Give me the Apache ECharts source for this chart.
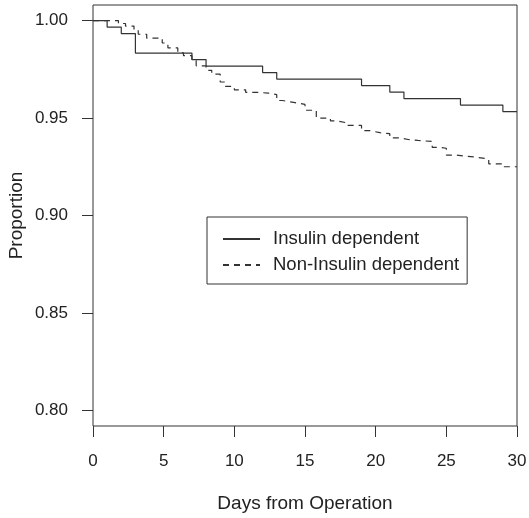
<!DOCTYPE html>
<html>
<head>
<meta charset="utf-8">
<title>Proportion by Days from Operation</title>
<script src="https://cdn.jsdelivr.net/npm/echarts@6/dist/echarts.min.js"></script>
<style>
  html, body { margin: 0; padding: 0; background: #ffffff; }
  #chart { width: 529px; height: 518px; }
</style>
</head>
<body>
<div id="chart"></div>
<script>
// Step curves: each point is (day, proportion after that day's events)
const insulinDays = [0, 1, 2, 3, 7, 8, 12, 13, 19, 21, 22, 26, 29, 30];
const insulinProp = [1.0, 0.99667, 0.99333, 0.98333, 0.98, 0.97667, 0.97333, 0.97, 0.96667, 0.96333, 0.96, 0.95667, 0.95333, 0.95333];

const nonInsulinDays = [0, 1.8, 2.3, 2.9, 3.2, 3.8, 4.9, 5.3, 6.0, 6.4, 7.0, 7.3, 8.0, 8.4, 9.0, 9.3, 10.0, 10.8, 11.6, 12.4, 13.0, 13.4, 14.2, 15.0, 15.8, 16.8, 17.3, 18.0, 19.0, 19.6, 20.3, 21.0, 21.7, 22.3, 23.0, 24.0, 24.5, 25.0, 25.7, 26.3, 27.0, 28.0, 29.0, 30];
const nonInsulinProp = [1.0, 0.9985, 0.9972, 0.995, 0.993, 0.991, 0.9885, 0.986, 0.9835, 0.982, 0.9795, 0.9768, 0.9745, 0.9725, 0.9685, 0.9662, 0.9645, 0.9632, 0.9628, 0.962, 0.959, 0.958, 0.957, 0.954, 0.95, 0.9485, 0.9475, 0.9462, 0.9435, 0.9425, 0.942, 0.9398, 0.939, 0.9385, 0.938, 0.935, 0.9345, 0.931, 0.9305, 0.93, 0.929, 0.9265, 0.925, 0.9248];

const seriesNames = ['Insulin dependent', 'Non-Insulin dependent'];
const xTicks = [0, 5, 10, 15, 20, 25, 30];
const yTicks = [0.80, 0.85, 0.90, 0.95, 1.00];

const FONT = '"Liberation Sans", Arial, Helvetica, sans-serif';
const INK = '#333333';
const TEXT = '#222222';

const pairs = (xs, ys) => xs.map((x, i) => [x, ys[i]]);

const chart = echarts.init(document.getElementById('chart'), null, { renderer: 'canvas' });

chart.setOption({
  animation: false,
  backgroundColor: '#ffffff',
  textStyle: { fontFamily: FONT },
  grid: {
    left: 93, right: 12, top: 5, bottom: 92,
    outerBoundsMode: 'none',
    containLabel: false,
    show: true, borderColor: INK, borderWidth: 1, backgroundColor: 'transparent'
  },
  legend: {
    orient: 'vertical',
    left: 207, top: 217,
    padding: [12, 8, 9, 15],
    itemWidth: 37, itemHeight: 14, itemGap: 6,
    borderColor: INK, borderWidth: 1, borderRadius: 0,
    backgroundColor: '#ffffff',
    // keep only the line sample in each legend key
    itemStyle: { opacity: 0 },
    textStyle: { fontFamily: FONT, fontSize: 18.5, color: TEXT, lineHeight: 20, padding: [0, 0, 0, 8] },
    data: seriesNames
  },
  xAxis: {
    type: 'value',
    min: 0, max: 30, interval: 5,
    name: 'Days from Operation',
    nameLocation: 'middle', nameGap: 68,
    nameMoveOverlap: false,
    nameTextStyle: { fontFamily: FONT, fontSize: 19, color: TEXT },
    axisLine: { show: false },
    axisTick: { show: true, length: 11, lineStyle: { color: INK, width: 1 }, customValues: xTicks },
    axisLabel: { fontFamily: FONT, fontSize: 17, color: TEXT, margin: 27, customValues: xTicks },
    splitLine: { show: false }
  },
  yAxis: {
    type: 'value',
    min: 0.792, max: 1.008,
    name: 'Proportion',
    nameLocation: 'middle', nameGap: 67,
    nameMoveOverlap: false,
    nameTextStyle: { fontFamily: FONT, fontSize: 19, color: TEXT },
    axisLine: { show: false },
    axisTick: { show: true, length: 11, lineStyle: { color: INK, width: 1 }, customValues: yTicks },
    axisLabel: {
      fontFamily: FONT, fontSize: 17, color: TEXT, margin: 25,
      customValues: yTicks,
      formatter: v => v.toFixed(2)
    },
    splitLine: { show: false }
  },
  series: [
    {
      name: seriesNames[0],
      type: 'line',
      step: 'end',
      symbol: 'none',
      data: pairs(insulinDays, insulinProp),
      lineStyle: { color: INK, width: 1.2, type: 'solid' },
      itemStyle: { color: INK }
    },
    {
      name: seriesNames[1],
      type: 'line',
      step: 'end',
      symbol: 'none',
      data: pairs(nonInsulinDays, nonInsulinProp),
      lineStyle: { color: INK, width: 1.2, type: [6, 5] },
      itemStyle: { color: INK }
    }
  ]
});
</script>
</body>
</html>
